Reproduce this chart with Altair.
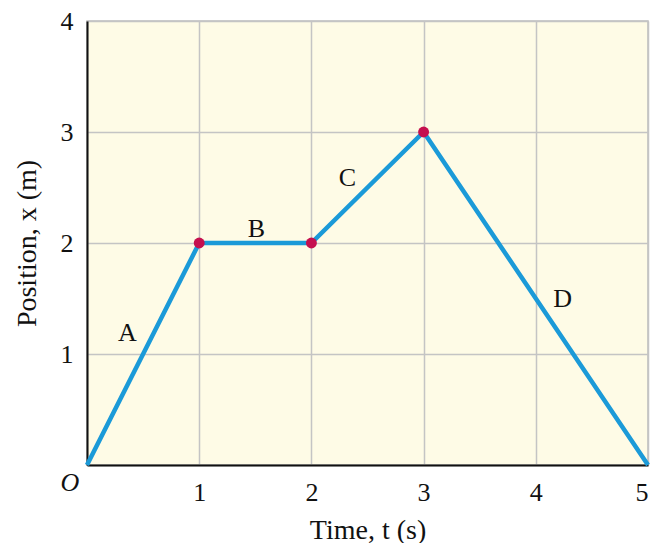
import altair as alt
import pandas as pd

times = [0, 1, 2, 3, 5]
positions = [0, 2, 2, 3, 0]
dot_times = [1, 2, 3]
dot_positions = [2, 2, 3]
seg_labels = ["A", "B", "C", "D"]
seg_t = [0.36, 1.51, 2.32, 4.24]
seg_x = [1.19, 2.13, 2.59, 1.50]

FONT = "Liberation Serif"
FS = 26
line_df = pd.DataFrame({"t": times, "x": positions})
dot_df = pd.DataFrame({"t": dot_times, "x": dot_positions})
lab_df = pd.DataFrame({"t": seg_t, "x": seg_x, "lab": seg_labels})
origin_df = pd.DataFrame({"t": [0], "x": [0], "lab": ["O"]})

xs = alt.Scale(domain=[0, 5], nice=False, zero=False)
ys = alt.Scale(domain=[0, 4], nice=False, zero=False)

xaxis = alt.Axis(values=[0, 1, 2, 3, 4, 5], title="Time, t (s)", format="d",
                 labelExpr="datum.value == 0 ? '' : datum.label",
                 grid=True, ticks=False, labelPadding=14, titlePadding=11)
yaxis = alt.Axis(values=[0, 1, 2, 3, 4], title="Position, x (m)", format="d",
                 labelExpr="datum.value == 0 ? '' : datum.label",
                 grid=True, ticks=False, labelPadding=14, titlePadding=19)

line = alt.Chart(line_df).mark_line(color="#1b9ad8", strokeWidth=4.5).encode(
    x=alt.X("t:Q", scale=xs, axis=xaxis),
    y=alt.Y("x:Q", scale=ys, axis=yaxis),
)
dots = alt.Chart(dot_df).mark_circle(color="#c5104f", opacity=1, size=120).encode(
    x=alt.X("t:Q", scale=xs), y=alt.Y("x:Q", scale=ys)
)
labels = alt.Chart(lab_df).mark_text(font=FONT, fontSize=FS, color="#111").encode(
    x=alt.X("t:Q", scale=xs), y=alt.Y("x:Q", scale=ys), text="lab:N"
)
origin = alt.Chart(origin_df).mark_text(font=FONT, fontSize=FS, fontStyle="italic",
                                        color="#111", dx=-17, dy=18).encode(
    x=alt.X("t:Q", scale=xs), y=alt.Y("x:Q", scale=ys), text="lab:N"
)

chart = alt.layer(line, dots, labels, origin).properties(
    width=561, height=444,
    autosize=alt.AutoSizeParams(type="none"),
    padding={"left": 79, "top": 13, "right": 10, "bottom": 78},
    background="white",
).configure_view(
    fill="#fefbe6", stroke="#bdbdbd", strokeWidth=1.5
).configure_axis(
    gridColor="#c4c4c4", gridWidth=1.5, gridOpacity=1,
    domainColor="#111", domainWidth=2,
    labelFont=FONT, labelFontSize=FS, labelColor="#111",
    titleFont=FONT, titleFontSize=28, titleFontWeight="normal", titleColor="#111",
)

chart.save("out.html", embed_options={"renderer": "svg", "actions": False})
